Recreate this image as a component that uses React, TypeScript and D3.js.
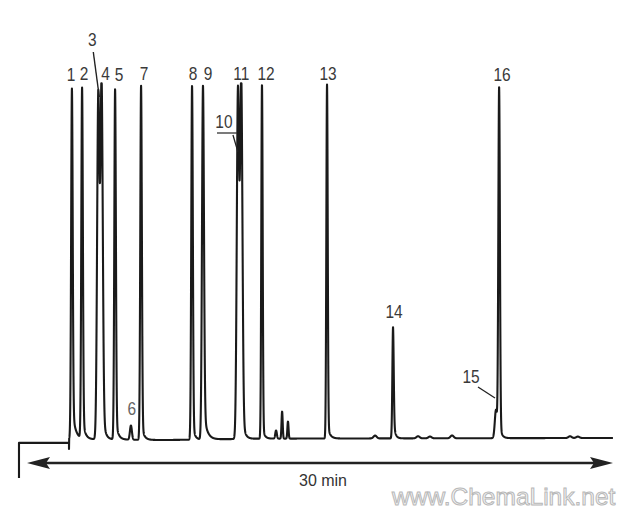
import React from 'react';
import * as d3 from 'd3';

// Peak table (retention time in min, height in % of full scale)
const peakTimes = [2.30, 2.82, 3.65, 3.82, 4.51, 5.32, 5.84, 8.45, 9.01, 10.80, 10.97, 12.03, 12.75, 13.06, 13.36, 15.36, 17.82, 18.74, 20.02, 20.63, 21.76, 24.01, 24.17, 27.8, 28.2];
const peakHeights = [99, 99, 97, 99, 99, 4, 100, 100, 100, 98, 100, 100, 2.3, 7.6, 4.8, 100, 0.8, 31.4, 0.6, 0.5, 0.8, 8, 99, 0.5, 0.4];
const peakSigmas = [0.04, 0.04, 0.06, 0.06, 0.04, 0.05, 0.04, 0.04, 0.05, 0.06, 0.06, 0.035, 0.04, 0.03, 0.03, 0.035, 0.08, 0.035, 0.08, 0.08, 0.08, 0.06, 0.04, 0.08, 0.08];
const peakTailAmps = [0.1, 0.07, 0.1, 0.1, 0.07, 0, 0.05, 0.06, 0.1, 0.08, 0.08, 0.04, 0, 0, 0, 0.045, 0, 0.22, 0, 0, 0, 0, 0.05, 0, 0];
const peakTailTaus = [0.15, 0.12, 0.1, 0.12, 0.12, 0.1, 0.12, 0.1, 0.16, 0.1, 0.12, 0.1, 0.1, 0.1, 0.1, 0.12, 0.1, 0.08, 0.1, 0.1, 0.1, 0.1, 0.1, 0.1, 0.1];

// Baseline drift
const baselineTimes = [2.1, 7, 12, 30];
const baselineLevels = [0, -0.3, 0.1, 0.3];

// Pre-injection trace segment (time, signal)
const preTimes = [-0.41, -0.41, 2.15, 2.15];
const preLevels = [-11, -1.1, -1.1, -2.8];

// Labels: text and the peak index they refer to
const labelTexts = ['1', '2', '3', '4', '5', '6', '7', '8', '9', '10', '11', '12', '13', '14', '15', '16'];
const labelPeaks = [0, 1, 2, 3, 4, 5, 6, 7, 8, 9, 10, 11, 15, 17, 21, 22];

const axisLabel = '30 min';
const runMinutes = 30;
const watermark = 'www.ChemaLink.net';

const W = 639;
const H = 515;

export default function App() {
  const x = d3.scaleLinear().domain([0, runMinutes]).range([27, 613]);
  const y = d3.scaleLinear().domain([0, 100]).range([439, 85]);
  const baseline = d3.scaleLinear().domain(baselineTimes).range(baselineLevels).clamp(true);

  const signal = (t: number) => {
    let s = baseline(t);
    for (let i = 0; i < peakTimes.length; i++) {
      const dt = t - peakTimes[i];
      const h = peakHeights[i];
      const sg = peakSigmas[i];
      const g = Math.exp(-(dt * dt) / (2 * sg * sg));
      if (dt <= 0) s += h * g;
      else {
        const a = peakTailAmps[i];
        s += h * ((1 - a) * g + a * Math.exp(-dt / peakTailTaus[i]));
      }
    }
    return Math.min(s, 100.5);
  };

  const pts: [number, number][] = preTimes.map((t, i) => [t, preLevels[i]]);
  for (let t = 2.16; t <= runMinutes; t += 0.004) pts.push([t, signal(t)]);

  const line = d3.line<[number, number]>().x(d => x(d[0])).y(d => y(d[1]));

  const rowY = 80;
  const labelPos = (i: number): [number, number] => {
    const px = x(peakTimes[labelPeaks[i]]);
    const txt = labelTexts[i];
    switch (txt) {
      case '1': return [px - 1, rowY + 1];
      case '3': return [px - 6, 46];
      case '6': return [px + 1, 415];
      case '10': return [px - 14, 128];
      case '14': return [px + 1, 318];
      case '15': return [px - 25, 383];
      case '2': return [px + 2, rowY];
      case '4': return [px + 4, rowY];
      case '5': return [px + 4, rowY + 1];
      case '7': return [px + 3, rowY];
      case '9': return [px + 5, rowY];
      case '11': return [px, rowY];
      case '12': return [px + 4, rowY];
      case '16': return [px + 3, rowY + 1];
      default: return [px + 1, rowY];
    }
  };

  const x3 = x(peakTimes[2]);
  const x10 = x(peakTimes[9]);
  const x15 = x(peakTimes[21]);

  return (
    <svg width={W} height={H} style={{ position: 'absolute', left: 0, top: 0, background: '#fff' }}>
      <rect width={W} height={H} fill="#fff" />
      <path d={line(pts) || ''} fill="none" stroke="#1a1a1a" strokeWidth={2.1} strokeLinejoin="round" />

      {labelTexts.map((t, i) => {
        const [lx, ly] = labelPos(i);
        return (
          <text
            key={t}
            transform={`translate(${lx},${ly}) scale(0.86,1)`}
            textAnchor="middle"
            fontFamily="Liberation Sans, Arial, sans-serif"
            fontSize={18}
            fill={t === '6' ? '#666' : '#3a3a3a'}
          >
            {t}
          </text>
        );
      })}

      {/* leader lines */}
      <line x1={x3 - 5} y1={52} x2={x3 + 1} y2={97} stroke="#222" strokeWidth={1.4} />
      <line x1={x10 - 21} y1={133} x2={x10 - 1} y2={133} stroke="#333" strokeWidth={1.3} />
      <line x1={x10 - 5} y1={135} x2={x10} y2={152} stroke="#222" strokeWidth={1.3} />
      <line x1={x15 - 18} y1={387} x2={x15 - 1} y2={398} stroke="#222" strokeWidth={1.3} />

      {/* time arrow */}
      <line x1={x(0) + 12} y1={463} x2={x(runMinutes) - 12} y2={463} stroke="#222" strokeWidth={2.4} />
      <path d={`M${x(0)},463 L${x(0) + 23},457 L${x(0) + 19},463 L${x(0) + 23},469 Z`} fill="#222" />
      <path d={`M${x(runMinutes)},463 L${x(runMinutes) - 23},457 L${x(runMinutes) - 19},463 L${x(runMinutes) - 23},469 Z`} fill="#222" />
      <text x={323} y={486} textAnchor="middle" fontFamily="Liberation Sans, Arial, sans-serif" fontSize={16} fill="#333">
        {axisLabel}
      </text>

      <text x={392} y={505} fontFamily="Liberation Sans, Arial, sans-serif" fontSize={24.5} fill="#f6f6f6" stroke="#b8b8b8" strokeWidth={1}>
        {watermark}
      </text>
    </svg>
  );
}
